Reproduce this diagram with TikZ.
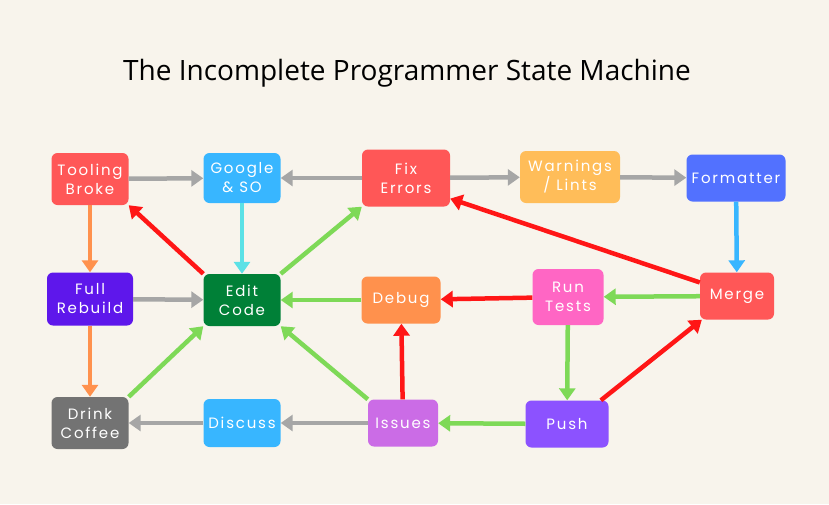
\documentclass[tikz,border=0pt]{standalone}
\usepackage{fontspec}
\newfontfamily\titlefont{Open Sans}
\newfontfamily\boxfont{Poppins}[LetterSpace=12]
\usetikzlibrary{arrows.meta}
\definecolor{bg}{HTML}{F8F4EC}
\definecolor{cRed}{HTML}{FF5757}
\definecolor{cSky}{HTML}{38B6FF}
\definecolor{cGold}{HTML}{FFBD59}
\definecolor{cBlue}{HTML}{5271FF}
\definecolor{cIndigo}{HTML}{5E17EB}
\definecolor{cGreen}{HTML}{008037}
\definecolor{cOrange}{HTML}{FF914D}
\definecolor{cPink}{HTML}{FF66C4}
\definecolor{cGrey}{HTML}{737373}
\definecolor{cOrchid}{HTML}{CB6CE6}
\definecolor{cViolet}{HTML}{8C52FF}
\definecolor{aGrey}{HTML}{A6A6A6}
\definecolor{aOrange}{HTML}{FF914D}
\definecolor{aCyan}{HTML}{5CE1E6}
\definecolor{aGreen}{HTML}{7ED957}
\definecolor{aRed}{HTML}{FF1616}
\definecolor{aBlue}{HTML}{38B6FF}
\begin{document}
\begin{tikzpicture}[x=1pt,y=-1pt,
    state/.style={rounded corners=6pt,text=white,align=center,inner sep=0pt,
      font=\boxfont\fontsize{15}{19}\selectfont},
    link/.style={line width=4.5pt,-{Triangle[width=16pt,length=12pt]}}]
    \fill[bg](0,0)rectangle(829,504);
    \node[font=\titlefont\fontsize{28}{32}\selectfont] (title) at (407,73) {The Incomplete Programmer State Machine};
    \foreach \n/\x/\y/\w/\h/\c/\t in {tool/90/179/77/52/cRed/{Tooling\\Broke},
      google/242/178/77/50/cSky/{Google\\\& SO}, fix/406/178/88/57/cRed/{Fix\\Errors},
      warn/570/177/100/52/cGold/{Warnings\\/ Lints}, fmt/736/178/99/47/cBlue/Formatter,
      rebuild/90/299/86/53/cIndigo/{Full\\Rebuild}, edit/242/300/77/52/cGreen/{Edit\\Code},
      debug/401/300/79/47/cOrange/Debug, tests/568/297/71/56/cPink/{Run\\Tests},
      merge/737/296/74/47/cRed/Merge, coffee/90/423/77/52/cGrey/{Drink\\Coffee},
      discuss/242/423/77/48/cSky/Discuss, issues/403/423/70/47/cOrchid/Issues,
      push/567/424/83/47/cViolet/Push}{
      \node[state,fill=\c,minimum width=\w pt,minimum height=\h pt] (\n) at (\x,\y) {\t};
    }
    \foreach \a/\b/\c in {tool/google/aGrey, fix/google/aGrey, fix/warn/aGrey, warn/fmt/aGrey,
      rebuild/edit/aGrey, issues/discuss/aGrey, discuss/coffee/aGrey,
      fmt/merge/aBlue, tool/rebuild/aOrange, rebuild/coffee/aOrange, google/edit/aCyan,
      edit.north west/tool.south east/aRed, tests/debug/aRed, issues/debug/aRed,
      merge.160/fix.-25/aRed, push.35/merge.214/aRed,
      edit.north east/fix.south west/aGreen, debug/edit/aGreen, merge/tests/aGreen,
      tests/push/aGreen, push/issues/aGreen, issues.north west/edit.south east/aGreen,
      coffee.north east/edit.south west/aGreen}{
      \draw[link,color=\c](\a)--(\b);
    }
\end{tikzpicture}
\end{document}
